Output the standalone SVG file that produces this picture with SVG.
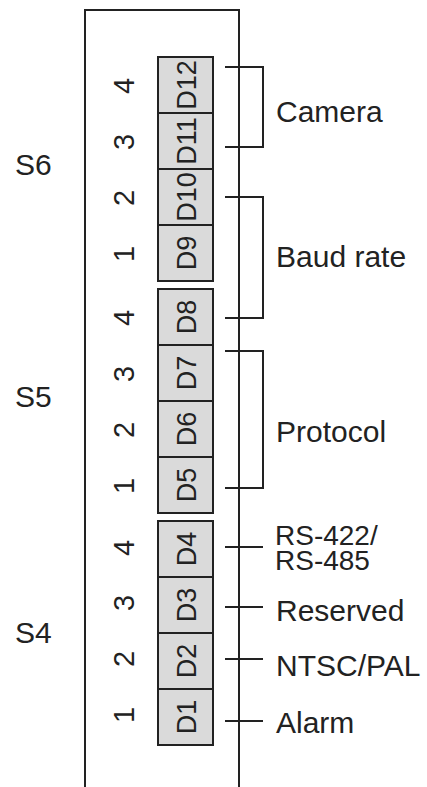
<svg xmlns="http://www.w3.org/2000/svg" width="427" height="787" viewBox="0 0 427 787">
<style>
  text { font-family: "Liberation Sans", Arial, sans-serif; fill: #222; }
  .lbl { font-size: 30px; }
  .num { font-size: 29px; text-anchor: middle; }
  .cell { fill: #dadada; stroke: #222; stroke-width: 2; }
  .dl { font-size: 27px; text-anchor: middle; }
  .ln { stroke: #222; stroke-width: 2; fill: none; }
</style>
<rect width="427" height="787" fill="#fff"/>
<g id="housing">
  <path class="ln" d="M85,800 V10 H239 V800"/>
</g>
<g id="S6">
  <text class="lbl" x="15" y="175">S6</text>
  <rect class="cell" x="158" y="57" width="55" height="224"/>
  <path class="ln" d="M158,113 H213 M158,169 H213 M158,225 H213"/>
  <text class="num" transform="translate(134,86) rotate(-90)">4</text>
  <text class="num" transform="translate(134,142) rotate(-90)">3</text>
  <text class="num" transform="translate(134,198) rotate(-90)">2</text>
  <text class="num" transform="translate(134,254) rotate(-90)">1</text>
  <text class="dl" transform="translate(196,85) rotate(-90)">D12</text>
  <text class="dl" transform="translate(196,141) rotate(-90)">D11</text>
  <text class="dl" transform="translate(196,197) rotate(-90)">D10</text>
  <text class="dl" transform="translate(196,253) rotate(-90)">D9</text>
</g>
<g id="S5">
  <text class="lbl" x="15" y="407">S5</text>
  <rect class="cell" x="158" y="289" width="55" height="224"/>
  <path class="ln" d="M158,345 H213 M158,401 H213 M158,457 H213"/>
  <text class="num" transform="translate(134,318) rotate(-90)">4</text>
  <text class="num" transform="translate(134,374) rotate(-90)">3</text>
  <text class="num" transform="translate(134,430) rotate(-90)">2</text>
  <text class="num" transform="translate(134,486) rotate(-90)">1</text>
  <text class="dl" transform="translate(196,317) rotate(-90)">D8</text>
  <text class="dl" transform="translate(196,373) rotate(-90)">D7</text>
  <text class="dl" transform="translate(196,429) rotate(-90)">D6</text>
  <text class="dl" transform="translate(196,485) rotate(-90)">D5</text>
</g>
<g id="S4">
  <text class="lbl" x="15" y="643">S4</text>
  <rect class="cell" x="158" y="521" width="55" height="224"/>
  <path class="ln" d="M158,577 H213 M158,633 H213 M158,689 H213"/>
  <text class="num" transform="translate(134,548) rotate(-90)">4</text>
  <text class="num" transform="translate(134,603) rotate(-90)">3</text>
  <text class="num" transform="translate(134,659) rotate(-90)">2</text>
  <text class="num" transform="translate(134,715) rotate(-90)">1</text>
  <text class="dl" transform="translate(196,549) rotate(-90)">D4</text>
  <text class="dl" transform="translate(196,605) rotate(-90)">D3</text>
  <text class="dl" transform="translate(196,661) rotate(-90)">D2</text>
  <text class="dl" transform="translate(196,717) rotate(-90)">D1</text>
</g>
<g id="connectors">
  <path class="ln" d="M225,67 H263 V147 H225"/>
  <path class="ln" d="M225,197 H263 V318 H225"/>
  <path class="ln" d="M225,351 H263 V488 H225"/>
  <path class="ln" d="M225,547 H263"/>
  <path class="ln" d="M225,607 H263"/>
  <path class="ln" d="M225,659 H263"/>
  <path class="ln" d="M225,721 H263"/>
</g>
<g id="camera"><text class="lbl" x="276" y="122">Camera</text></g>
<g id="baud"><text class="lbl" x="276" y="267">Baud rate</text></g>
<g id="protocol"><text class="lbl" x="276" y="442">Protocol</text></g>
<g id="rs"><text class="lbl" style="font-size:28px"><tspan x="275" y="545">RS-422/</tspan><tspan x="275" y="570">RS-485</tspan></text></g>
<g id="reserved"><text class="lbl" x="276" y="621">Reserved</text></g>
<g id="ntsc"><text class="lbl" x="276" y="676">NTSC/PAL</text></g>
<g id="alarm"><text class="lbl" x="276" y="733">Alarm</text></g>
</svg>
